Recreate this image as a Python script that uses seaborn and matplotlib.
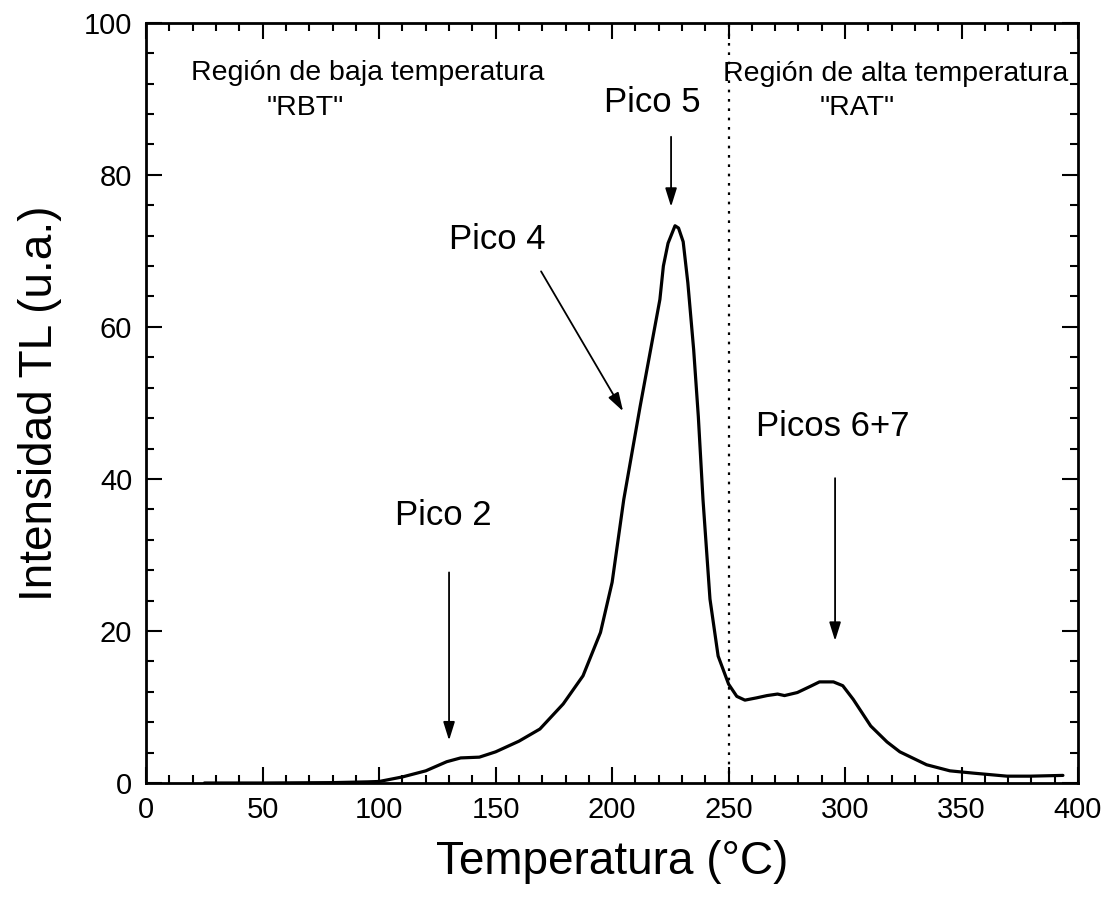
import numpy as np
import pandas as pd
import seaborn as sns
import matplotlib.pyplot as plt
from matplotlib.ticker import MultipleLocator

# curva TL
temperatura = [25, 50, 80, 95, 100, 110, 120, 129, 135, 143, 150, 160, 169, 179,
               187.5, 195, 200, 205, 212, 220.5, 222, 224, 227, 228.5, 230.5, 232.5,
               235, 237, 239, 242, 245.5, 250, 253.5, 257, 262, 266.5, 271, 274,
               279.5, 285, 289, 295, 299, 303.5, 311, 318, 323.5, 335, 345, 355,
               369.5, 379.5, 393.5]
intensidad = [0.0, 0.0, 0.05, 0.15, 0.2, 0.8, 1.6, 2.8, 3.3, 3.4, 4.1, 5.5, 7.1,
              10.4, 14.1, 19.8, 26.4, 37.3, 49.5, 63.6, 68.0, 71.0, 73.3, 73.0, 71.2,
              65.8, 57.0, 48.2, 37.3, 24.2, 16.7, 13.0, 11.4, 10.9, 11.2, 11.5,
              11.7, 11.5, 11.9, 12.7, 13.3, 13.3, 12.8, 11.0, 7.5, 5.4, 4.1, 2.4,
              1.6, 1.3, 0.9, 0.9, 1.0]

# etiquetas de picos: texto, posicion del texto, inicio y fin de la flecha
picos = ["Pico 2", "Pico 4", "Pico 5", "Picos 6+7"]
picos_texto = [(127.5, 34.0), (150.6, 70.2), (217.2, 88.2), (294.8, 45.6)]
flecha_ini = [(130, 27.7), (169.5, 67.3), (225.3, 85.0), (295.7, 40.1)]
flecha_fin = [(130, 5.6), (204.7, 48.9), (225.3, 75.8), (295.7, 18.7)]

regiones = ["Región de baja temperatura", "Región de alta temperatura"]
regiones_pos = [(95.0, 92.5), (321.5, 92.3)]
siglas = ['"RBT"', '"RAT"']
siglas_pos = [(68.2, 87.9), (305.0, 87.9)]
limite = 250

df = pd.DataFrame({"T": temperatura, "I": intensidad})

sns.set_theme(style="ticks")
plt.rcParams['font.family'] = ['Liberation Sans', 'DejaVu Sans']
plt.rcParams.update({"text.color": "black", "axes.labelcolor": "black",
                     "xtick.color": "black", "ytick.color": "black",
                     "axes.edgecolor": "black"})

fig = plt.figure(figsize=(11.16, 9.11), dpi=100)
ax = fig.add_axes([0.131, 0.1405, 0.835, 0.8345])

sns.lineplot(data=df, x="T", y="I", ax=ax, color="black", linewidth=2.3)
ax.axvline(limite, color="black", linestyle=(0, (1.2, 3.0)), linewidth=1.6)

for txt, (x, y) in zip(regiones, regiones_pos):
    ax.text(x, y, txt, fontsize=20.5, ha="center", va="baseline")
for txt, (x, y) in zip(siglas, siglas_pos):
    ax.text(x, y, txt, fontsize=20.5, ha="center", va="baseline")

for txt, pos, a, b in zip(picos, picos_texto, flecha_ini, flecha_fin):
    ax.text(pos[0], pos[1], txt, fontsize=25, ha="center", va="baseline")
    ax.annotate("", xy=b, xytext=a,
                arrowprops=dict(arrowstyle="-|>,head_length=0.8,head_width=0.25",
                                color="black", lw=1.3, shrinkA=0, shrinkB=0,
                                mutation_scale=14))

ax.set_xlim(0, 400)
ax.set_ylim(0, 100)
ax.xaxis.set_major_locator(MultipleLocator(50))
ax.xaxis.set_minor_locator(MultipleLocator(10))
ax.yaxis.set_major_locator(MultipleLocator(20))
ax.yaxis.set_minor_locator(MultipleLocator(4))
ax.tick_params(which="both", direction="in", top=True, right=True,
               width=1.5, color="black", labelcolor="black")
ax.tick_params(which="major", length=11.5, labelsize=21)
ax.tick_params(which="minor", length=5.8)
ax.tick_params(axis="x", which="major", pad=9)
ax.tick_params(axis="y", which="major", pad=10)
for s in ax.spines.values():
    s.set_linewidth(2.0)
    s.set_color("black")

ax.set_xlabel("Temperatura (°C)", fontsize=33, labelpad=12)
ax.set_ylabel("Intensidad TL (u.a.)", fontsize=33, labelpad=16)

fig.savefig("out.png", dpi=100)
